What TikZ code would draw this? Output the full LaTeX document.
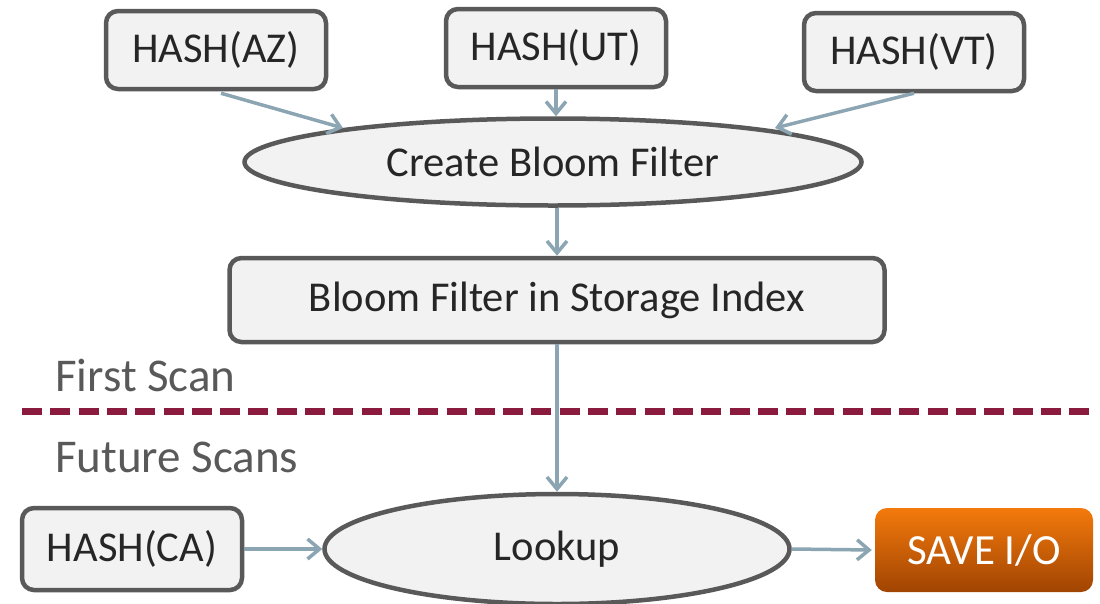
\documentclass[tikz,border=0pt]{standalone}
\usepackage{fontspec}
\setmainfont{Carlito}
\usetikzlibrary{shapes.geometric,arrows.meta}
\definecolor{boxfill}{HTML}{F2F2F2}
\definecolor{boxline}{HTML}{595959}
\definecolor{arrowc}{HTML}{8BA5B3}
\definecolor{txt}{HTML}{262626}
\definecolor{lbl}{HTML}{595959}
\definecolor{dashc}{HTML}{8B1A3F}
\definecolor{orTop}{HTML}{F47A0C}
\definecolor{orBot}{HTML}{A04402}
\tikzset{
  x=1pt,y=-1pt,
  base/.style={font=\fontsize{42.5}{48}\selectfont, text=txt, line width=4.5pt, draw=boxline, fill=boxfill, inner sep=0pt},
  hashbox/.style={base, rectangle, rounded corners=12pt, minimum width=220pt, minimum height=78pt},
  oval/.style={base, ellipse},
  conn/.style={draw=arrowc, line width=3.5pt, -{Straight Barb[length=12pt,width=20pt,line width=3.5pt]}},
  scanlbl/.style={font=\fontsize{47}{52}\selectfont, text=lbl, anchor=west, inner sep=0pt}
}
\begin{document}
\begin{tikzpicture}
\useasboundingbox (0,0) rectangle (1100,603);
\node[hashbox] (az) at (216,50) {HASH(AZ)};
\node[hashbox] (ut) at (556,48) {HASH(UT)};
\node[hashbox] (vt) at (914,52) {HASH(VT)};
\node[oval, minimum width=617pt, minimum height=87pt] (create) at (553,162) {Create Bloom Filter};
\node[hashbox, minimum width=655pt, minimum height=84pt] (store) at (557,300) {Bloom Filter in Storage Index};
\node[scanlbl] (first) at (55,375) {First Scan};
\coordinate (dl) at (22,411);
\coordinate (dr) at (1095,411);
\draw[dashc, line width=7pt, dash pattern=on 20pt off 8.3pt] (dl) -- (dr);
\node[scanlbl] (future) at (55,457) {Future Scans};
\node[hashbox, minimum height=82pt] (ca) at (132,549) {HASH(CA)};
\node[oval, minimum width=465pt, minimum height=110pt] (lookup) at (557,549) {Lookup};
\node[rectangle, rounded corners=12pt, minimum width=218pt, minimum height=84pt, top color=orTop, bottom color=orBot, draw=none, text=white, font=\fontsize{43}{48}\selectfont] (save) at (984,550) {SAVE I/O};
\draw[conn] (az.south) ++(5,2) coordinate (azs) (azs) -- (343,128);
\draw[conn] (ut.south) -- (create.north -| ut.south);
\draw[conn] (vt.south) -- (775,128);
\draw[conn] (create.south -| store.north) -- (store.north);
\draw[conn] (store.south) -- (lookup.north -| store.south);
\draw[conn] (ca.east) -- (lookup.west);
\draw[conn] (lookup.east) -- ([xshift=-3pt]save.west);
\end{tikzpicture}
\end{document}
